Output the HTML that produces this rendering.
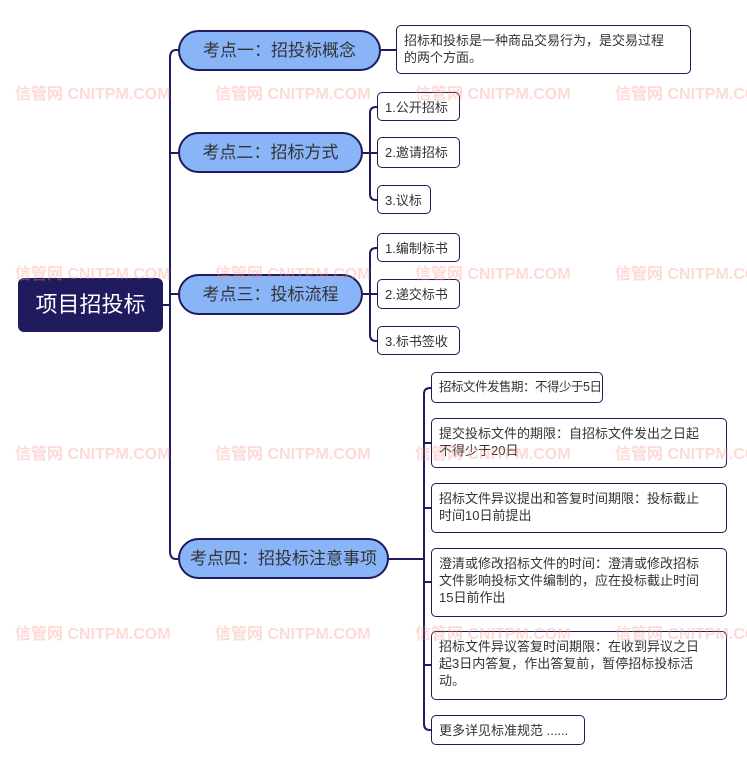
<!DOCTYPE html>
<html><head><meta charset="utf-8"><style>
body{margin:0;width:747px;height:770px;background:#fff;position:relative;overflow:hidden;font-family:"Liberation Sans","Noto Sans CJK SC",sans-serif}
.wm{position:absolute;color:rgba(245,150,135,0.35);font-weight:bold;font-size:16px;white-space:nowrap}
.root{position:absolute;left:18px;top:278px;width:145px;height:54px;background:#1e1b5e;border-radius:6px;color:#fff;font-size:22px;line-height:54px;text-align:center}
.t{position:absolute;box-sizing:border-box;background:#8ab4f8;border:2px solid #1e1b5e;border-radius:22px;color:#333;font-size:17px;text-align:center;height:41px;line-height:37px;white-space:nowrap}
.l{position:absolute;box-sizing:border-box;background:#fff;border:1.5px solid #1e1b5e;border-radius:5px;color:#333;font-size:13px;line-height:17px;padding:6px 0 0 7px;white-space:nowrap}
</style></head><body>
<svg width="747" height="770" style="position:absolute;left:0;top:0" fill="none" stroke="#1e1b5e" stroke-width="2">
<path d="M163 305H170"/>
<path d="M178 50H176Q170 50 170 58V551Q170 559 176 559H178"/>
<path d="M170 153H178M170 294H178"/>
<path d="M381 50H396"/>
<path d="M363 153H370M377 107H376Q370 107 370 113V194Q370 200 376 200H377M370 153H377"/>
<path d="M363 294H370M377 248H376Q370 248 370 254V335Q370 341 376 341H377M370 294H377"/>
<path d="M389 559H424M431 388H430Q424 388 424 394V724Q424 730 430 730H431M424 443H431M424 508H431M424 582H431M424 665H431"/>
</svg>
<div class="root">项目招投标</div>
<div class="t" style="left:178px;top:30px;width:203px">考点一：招投标概念</div>
<div class="t" style="left:178px;top:132px;width:185px">考点二：招标方式</div>
<div class="t" style="left:178px;top:274px;width:185px">考点三：投标流程</div>
<div class="t" style="left:178px;top:538px;width:211px">考点四：招投标注意事项</div>
<div class="l" style="left:396px;top:25px;width:295px;height:49px">招标和投标是一种商品交易行为，是交易过程<br>的两个方面。</div>
<div class="l" style="left:377px;top:92px;width:83px;height:29px">1.公开招标</div>
<div class="l" style="left:377px;top:137px;width:83px;height:31px">2.邀请招标</div>
<div class="l" style="left:377px;top:185px;width:54px;height:29px">3.议标</div>
<div class="l" style="left:377px;top:233px;width:83px;height:29px">1.编制标书</div>
<div class="l" style="left:377px;top:279px;width:83px;height:30px">2.递交标书</div>
<div class="l" style="left:377px;top:326px;width:83px;height:29px">3.标书签收</div>
<div class="l" style="left:431px;top:372px;width:172px;height:31px;font-size:12.5px;letter-spacing:-0.5px">招标文件发售期：不得少于5日</div>
<div class="l" style="left:431px;top:418px;width:296px;height:50px">提交投标文件的期限：自招标文件发出之日起<br>不得少于20日</div>
<div class="l" style="left:431px;top:483px;width:296px;height:50px">招标文件异议提出和答复时间期限：投标截止<br>时间10日前提出</div>
<div class="l" style="left:431px;top:548px;width:296px;height:69px">澄清或修改招标文件的时间：澄清或修改招标<br>文件影响投标文件编制的，应在投标截止时间<br>15日前作出</div>
<div class="l" style="left:431px;top:631px;width:296px;height:69px">招标文件异议答复时间期限：在收到异议之日<br>起3日内答复，作出答复前，暂停招标投标活<br>动。</div>
<div class="l" style="left:431px;top:715px;width:154px;height:30px">更多详见标准规范 ......</div>
<div class="wm" style="left:15px;top:80px">信管网 CNITPM.COM</div>
<div class="wm" style="left:215px;top:80px">信管网 CNITPM.COM</div>
<div class="wm" style="left:415px;top:80px">信管网 CNITPM.COM</div>
<div class="wm" style="left:615px;top:80px">信管网 CNITPM.COM</div>
<div class="wm" style="left:15px;top:260px">信管网 CNITPM.COM</div>
<div class="wm" style="left:215px;top:260px">信管网 CNITPM.COM</div>
<div class="wm" style="left:415px;top:260px">信管网 CNITPM.COM</div>
<div class="wm" style="left:615px;top:260px">信管网 CNITPM.COM</div>
<div class="wm" style="left:15px;top:440px">信管网 CNITPM.COM</div>
<div class="wm" style="left:215px;top:440px">信管网 CNITPM.COM</div>
<div class="wm" style="left:415px;top:440px">信管网 CNITPM.COM</div>
<div class="wm" style="left:615px;top:440px">信管网 CNITPM.COM</div>
<div class="wm" style="left:15px;top:620px">信管网 CNITPM.COM</div>
<div class="wm" style="left:215px;top:620px">信管网 CNITPM.COM</div>
<div class="wm" style="left:415px;top:620px">信管网 CNITPM.COM</div>
<div class="wm" style="left:615px;top:620px">信管网 CNITPM.COM</div>
</body></html>
